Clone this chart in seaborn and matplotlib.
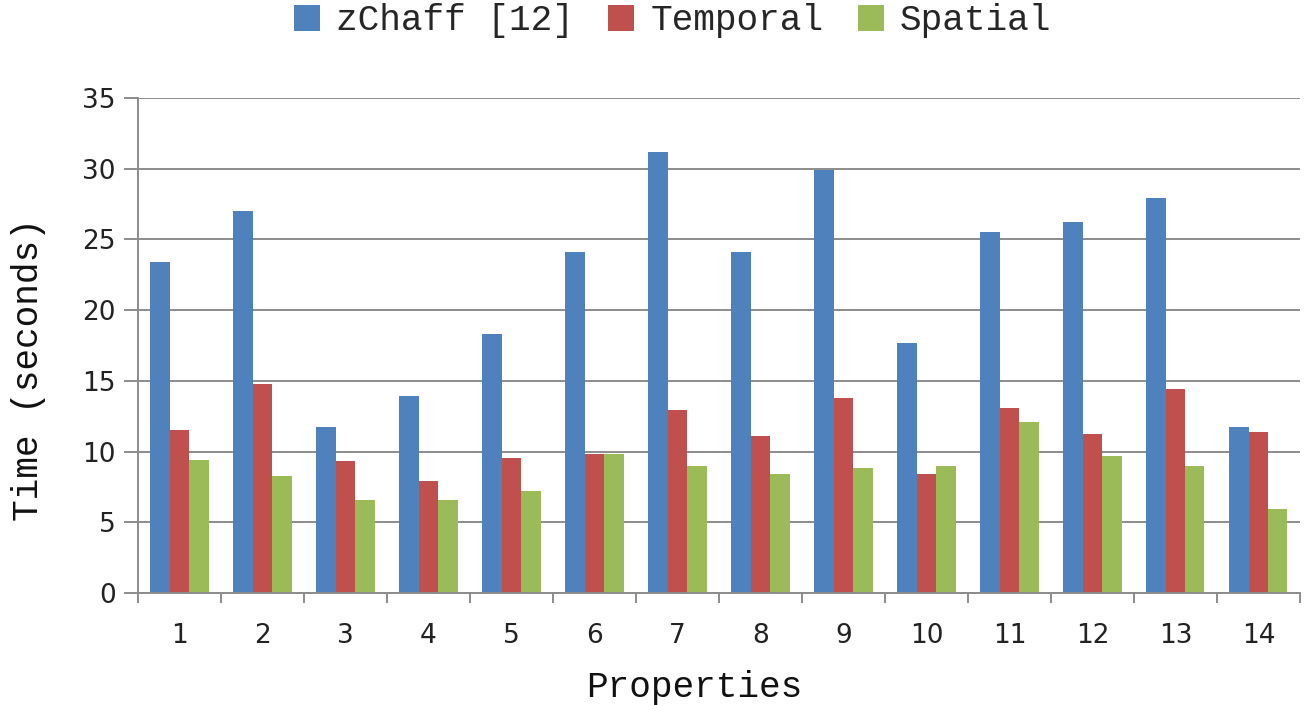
import seaborn as sns
import matplotlib.pyplot as plt
import pandas as pd
import numpy as np

properties = [str(i) for i in range(1, 15)]
zchaff = [23.4, 27.0, 11.7, 13.9, 18.3, 24.1, 31.2, 24.1, 29.9, 17.7, 25.5, 26.2, 27.9, 11.7]
temporal = [11.5, 14.8, 9.3, 7.9, 9.55, 9.85, 12.95, 11.1, 13.8, 8.4, 13.1, 11.25, 14.4, 11.4]
spatial = [9.4, 8.3, 6.6, 6.6, 7.2, 9.85, 9.0, 8.4, 8.85, 9.0, 12.1, 9.7, 8.95, 5.9]
series = ["zChaff [12]", "Temporal", "Spatial"]
colors = ["#4F81BD", "#C0504D", "#9BBB59"]

rows = []
for name, vals in zip(series, [zchaff, temporal, spatial]):
    for p, v in zip(properties, vals):
        rows.append({"Properties": p, "Time": v, "method": name})
df = pd.DataFrame(rows)

sns.set_style("white")
plt.rcParams['font.family'] = ['DejaVu Sans']
mono = ['Liberation Mono', 'DejaVu Sans Mono']

fig = plt.figure(figsize=(13.07, 7.05), dpi=100)
ax = fig.add_axes([0.1056, 0.159, 0.889, 0.702])

sns.barplot(data=df, x="Properties", y="Time", hue="method", hue_order=series,
            palette=colors, width=0.7, saturation=1, linewidth=0, ax=ax, legend=True)

ax.set_ylim(0, 35)
ax.set_xlim(-0.5, 13.5)
ax.set_yticks(np.arange(0, 36, 5))
ax.yaxis.grid(True, color="#8c8c8c", linewidth=1.4)
ax.set_axisbelow(True)
for s in ["top", "right"]:
    ax.spines[s].set_visible(False)
for s in ["left", "bottom"]:
    ax.spines[s].set_color("#8c8c8c")
    ax.spines[s].set_linewidth(1.4)

ax.tick_params(axis="y", which="major", length=10, width=1.4, color="#8c8c8c",
               labelsize=19, pad=6, left=True, labelcolor="#222222")
ax.tick_params(axis="x", which="major", length=0, labelsize=19, pad=22, labelcolor="#222222")
ax.set_xticks(np.arange(-0.5, 14, 1), minor=True)
ax.tick_params(axis="x", which="minor", length=7, width=1.4, color="#8c8c8c", bottom=True)

ax.set_xlabel("Properties", fontsize=26, family=mono, color="#111111")
ax.set_ylabel("Time (seconds)", fontsize=26, family=mono, color="#111111")
ax.xaxis.set_label_coords(0.479, -0.155)
ax.yaxis.set_label_coords(-0.079, 0.452)

handles, labels = ax.get_legend_handles_labels()
ax.legend(handles, labels, loc="center", bbox_to_anchor=(0.46, 1.156), ncol=3,
          frameon=False, prop={"family": mono, "size": 26}, handlelength=0.72,
          handleheight=0.72, handletextpad=0.45, columnspacing=0.95)

fig.savefig("out.png", dpi=100)
